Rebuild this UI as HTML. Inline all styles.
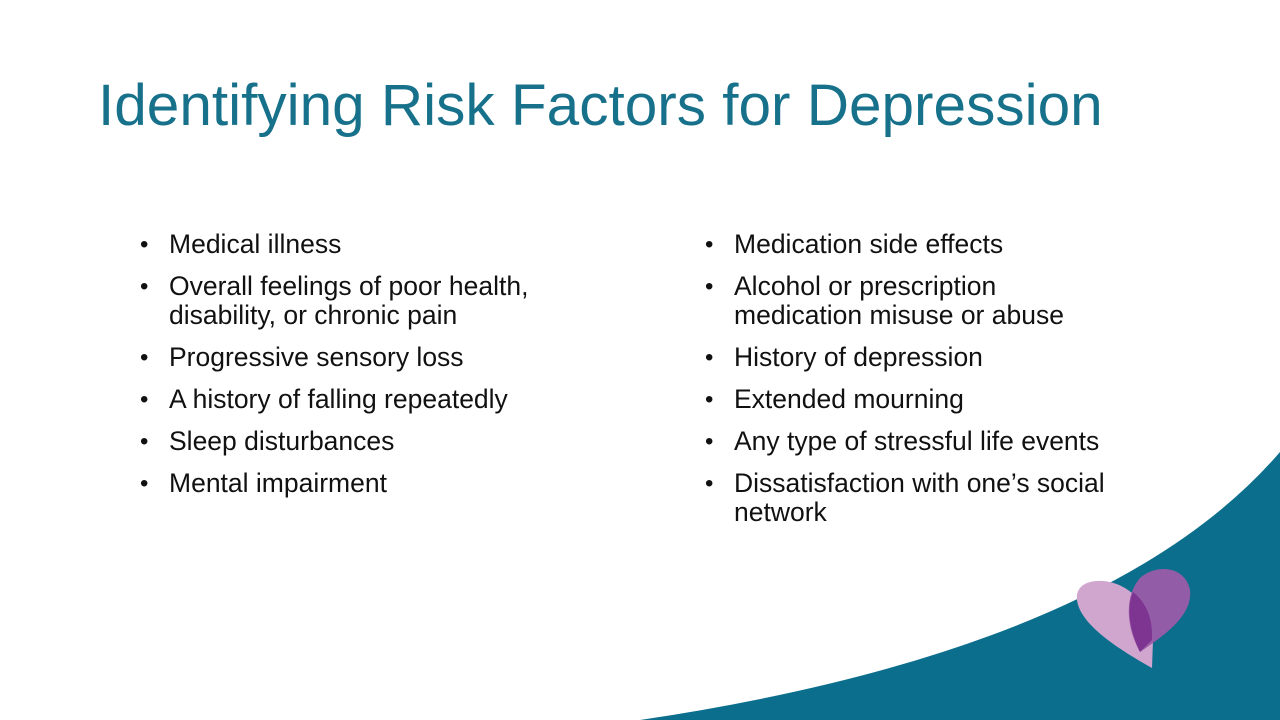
<!DOCTYPE html>
<html><head><meta charset="utf-8"><style>
html,body{margin:0;padding:0}
body{width:1280px;height:720px;position:relative;overflow:hidden;background:#fff;font-family:"Liberation Sans",Arial,sans-serif}
h1{position:absolute;left:98px;top:72px;margin:0;font-weight:normal;font-size:58.5px;color:#17718b;white-space:nowrap}
.col{position:absolute;top:230px;margin:0;padding:0;list-style:none;font-size:26.5px;color:#111;line-height:29px}
.col li{position:relative;padding-left:29px;margin-bottom:13px;white-space:nowrap}
.col li::before{content:"•";position:absolute;left:0;top:0;font-size:24px}
svg{position:absolute;left:0;top:0}
</style></head><body>
<svg width="1280" height="720">
<path d="M640,720 Q1110,650 1280,452 L1280,720 Z" fill="#0b6e8c"/>
<g>
<path d="M1152,668 C1120,650 1080,625 1077,600 C1075,585 1090,578 1110,582 C1135,588 1152,610 1153,640 Z" fill="#d0a6cf"/>
<path d="M1140,652 C1125,625 1125,595 1140,578 C1155,564 1185,565 1190,590 C1193,615 1165,635 1140,652 Z" fill="#9a5ba8" opacity="0.95"/>
<path d="M1140,652 C1128,628 1127,605 1133,592 C1147,603 1153,620 1152,640 Z" fill="#7e3592"/>
</g>
</svg>
<h1>Identifying Risk Factors for Depression</h1>
<ul class="col" style="left:140px">
<li>Medical illness</li>
<li>Overall feelings of poor health,<br>disability, or chronic pain</li>
<li>Progressive sensory loss</li>
<li>A history of falling repeatedly</li>
<li>Sleep disturbances</li>
<li>Mental impairment</li>
</ul>
<ul class="col" style="left:705px">
<li>Medication side effects</li>
<li>Alcohol or prescription<br>medication misuse or abuse</li>
<li>History of depression</li>
<li>Extended mourning</li>
<li>Any type of stressful life events</li>
<li>Dissatisfaction with one’s social<br>network</li>
</ul>
</body></html>
